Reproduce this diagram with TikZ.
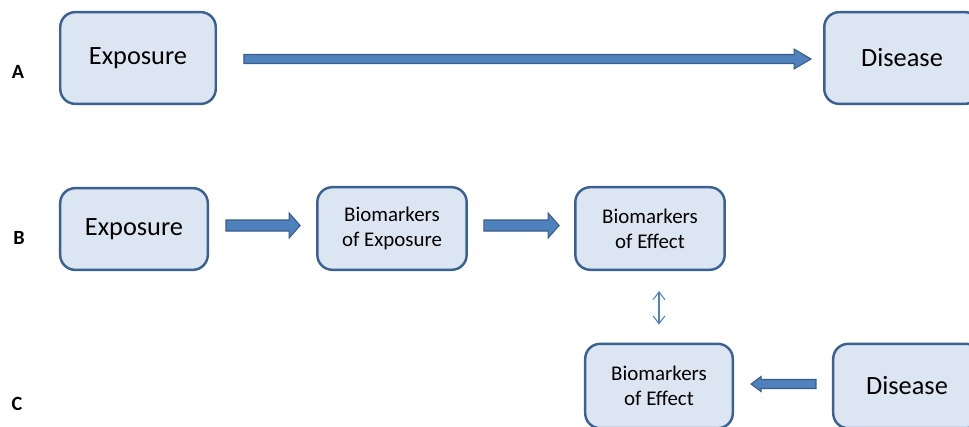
\documentclass[tikz,border=0pt]{standalone}
\usepackage{fontspec}
\setmainfont{Carlito}
\usetikzlibrary{calc,arrows.meta}
\definecolor{boxfill}{HTML}{DCE6F2}
\definecolor{boxline}{HTML}{3B6192}
\definecolor{arrfill}{HTML}{4F81BD}
\definecolor{arrline}{HTML}{385D8A}
\tikzset{
	bx/.style={draw=boxline, fill=boxfill, line width=1.4pt, rounded corners=8.5pt, align=center, inner sep=0pt},
	bigbx/.style={bx, font=\fontsize{15}{18}\selectfont},
	smallbx/.style={bx, font=\fontsize{11.9}{14.2}\selectfont},
	rowlabel/.style={inner sep=0pt, font=\fontsize{11.5}{13}\selectfont\bfseries},
	blockarr/.style={draw=arrline, fill=arrfill, line width=0.6pt, line join=miter},
	thinarr/.style={draw=arrfill, line width=0.6pt, {Straight Barb[width=6.8pt,length=4.5pt]}-{Straight Barb[width=6.8pt,length=4.5pt]}},
}
% horizontal block arrow: start, end, half shaft, half head, signed head length
\newcommand\harrow[5]{%
\draw[blockarr] ($(#1)+(0,#3)$) -- ($(#2)+({-1*(#5)},#3)$) -- ($(#2)+({-1*(#5)},#4)$) -- (#2)
 -- ($(#2)+({-1*(#5)},-#4)$) -- ($(#2)+({-1*(#5)},-#3)$) -- ($(#1)+(0,-#3)$) -- cycle;}

\begin{document}
\begin{tikzpicture}[x=0.02cm,y=-0.02cm]
\useasboundingbox (0,0) rectangle (969,426);

\node[rowlabel] (labA) at (18,71.5) {A};
\node[rowlabel] (labB) at (19,238) {B};
\node[rowlabel] (labC) at (17,404) {C};

\node[bigbx, minimum width=88.5pt, minimum height=52.2pt] (expA) at (138,58) {Exposure};
\node[bigbx, minimum width=88.5pt, minimum height=52.2pt] (disA) at (902,58) {Disease};

\node[bigbx, minimum width=84pt, minimum height=46.5pt] (expB) at (134,229) {Exposure};
\node[smallbx, minimum width=85pt, minimum height=47pt] (bioExp) at (392,228.5) {Biomarkers\\of Exposure};
\node[smallbx, minimum width=85pt, minimum height=47pt] (effB) at (650,228.5) {Biomarkers\\of Effect};

\node[smallbx, minimum width=84pt, minimum height=48pt] (effC) at (659,386) {Biomarkers\\of Effect};
\node[bigbx, minimum width=84pt, minimum height=48pt] (disC) at (907,386) {Disease};

\coordinate (a1) at ($(expA.east)+(27,1)$);
\coordinate (a2) at ($(disA.west)+(-12,1)$);
\harrow{a1}{a2}{4.5}{10}{17}

\coordinate (b1) at ($(expB.east)+(17,-3.5)$);
\coordinate (b2) at ($(bioExp.west)+(-16,-3)$);
\harrow{b1}{b2}{5.5}{12.5}{11}
\coordinate (b3) at ($(bioExp.east)+(16,-3)$);
\coordinate (b4) at ($(effB.west)+(-15,-3)$);
\harrow{b3}{b4}{5.5}{12.5}{11}

\coordinate (c1) at ($(disC.west)+(-16,-2)$);
\coordinate (c2) at ($(effC.east)+(17,-2)$);
\harrow{c1}{c2}{4.5}{7.5}{-10}

\draw[thinarr] ($(effB.south -| effC.north)+(0,20)$) -- ($(effC.north)+(0,-18)$);
\end{tikzpicture}
\end{document}
